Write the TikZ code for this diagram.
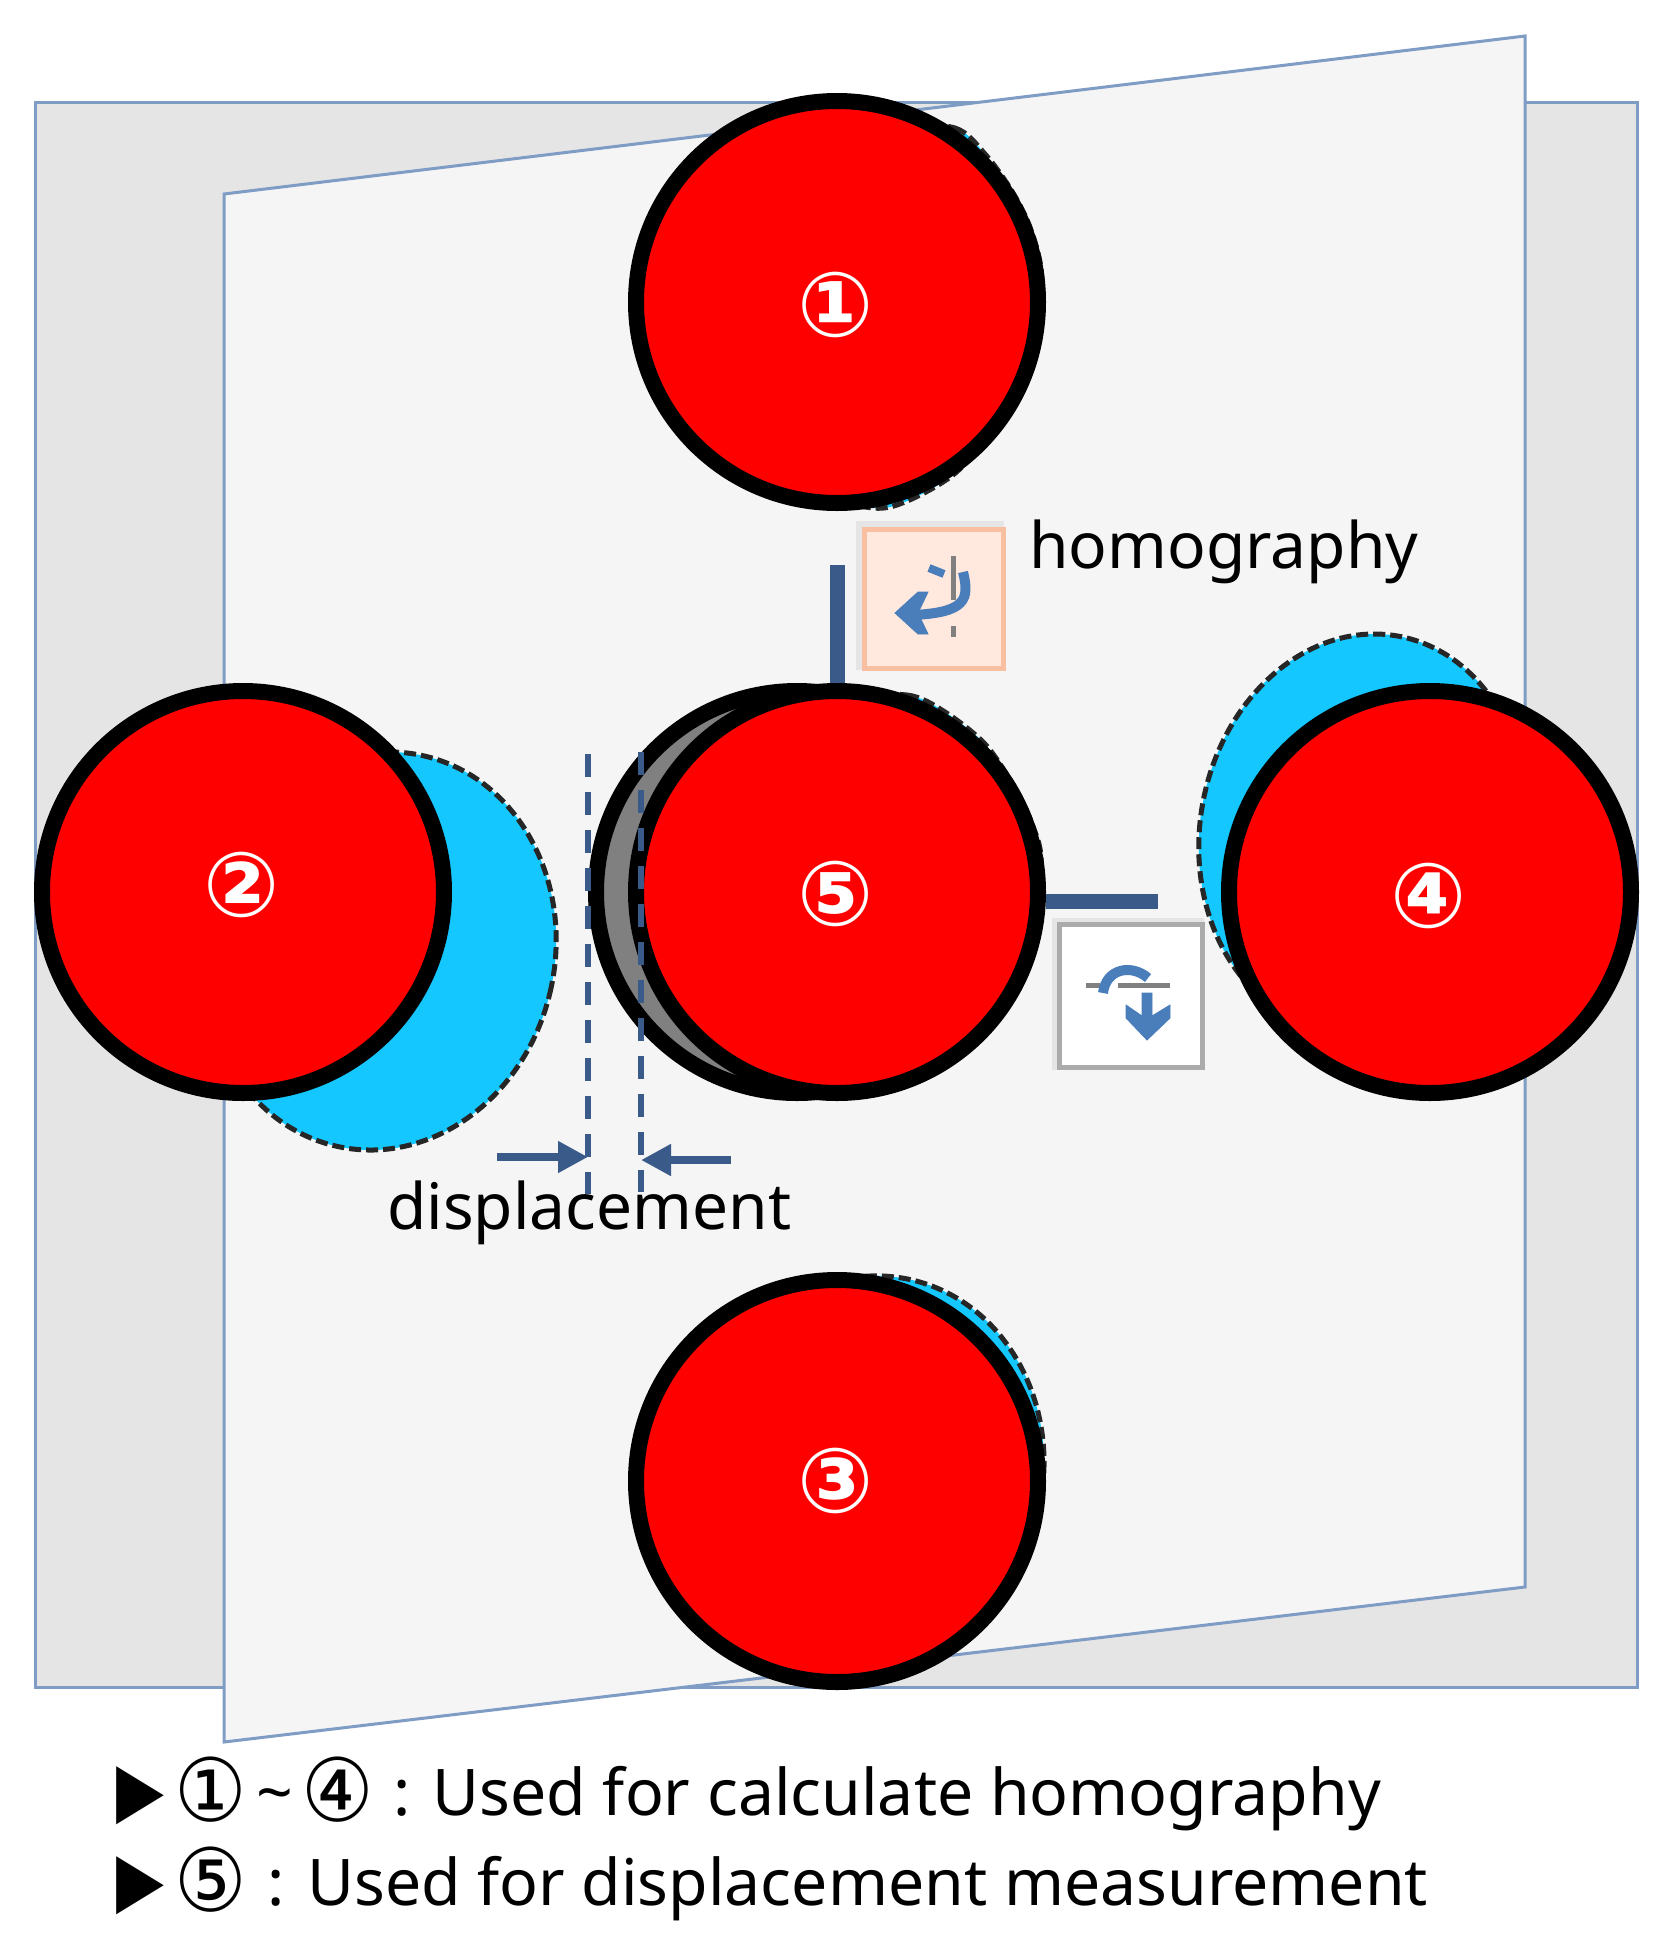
\documentclass[tikz,border=0pt]{standalone}
\usepackage{fontspec}
\setmainfont{Noto Sans}
\newfontfamily\circfont{DejaVu Sans}
\usetikzlibrary{arrows.meta}
\definecolor{linkblue}{HTML}{3A5A8A}
\definecolor{frameblue}{HTML}{7F9CC4}
\definecolor{ghostblue}{HTML}{14C8FF}
\definecolor{iconblue}{HTML}{4A7EBB}
\newcommand{\tallnum}[1]{\raisebox{-3pt}{\scalebox{1}[1.08]{\circfont\fontsize{40.5}{40.5}\selectfont #1}}}
\tikzset{
  plane/.style={draw=frameblue,line width=1.5pt},
  ghost/.style={draw=black!85,fill=ghostblue,line width=2.5pt,dash pattern=on 6pt off 2.5pt},
  marker/.style={circle,draw=black,fill=red,line width=8pt,minimum size=201pt,inner sep=0pt},
  num/.style={text=white,inner sep=0pt,font=\circfont\bfseries\fontsize{45}{45}\selectfont},
  word/.style={anchor=base west,inner sep=0pt,font=\fontsize{32}{38}\selectfont},
  legendline/.style={anchor=base west,inner sep=0pt,font=\fontsize{32.15}{38}\selectfont},
  bullet/.style={anchor=base west,inner sep=0pt,font=\circfont\fontsize{38}{38}\selectfont},
  link/.style={draw=linkblue,line width=7.5pt},
  guide/.style={draw=linkblue,line width=3pt,dash pattern=on 11.5pt off 7.5pt},
  pointer/.style={draw=linkblue,line width=4pt,-{Triangle[length=15pt,width=15pt]}},
  iconline/.style={draw=black!50,line width=2.5pt},
  iconarc/.style={draw=iconblue,line width=3pt}
}
\begin{document}
\begin{tikzpicture}[x=0.5pt,y=-0.5pt]
\useasboundingbox (0,0) rectangle (1666,1960);

\draw[plane,fill=black!10] (35,102) rectangle (1637,1687);
\draw[plane,fill=black!4] (224,194) -- (1525,36) -- (1525,1587) -- (224,1742) -- cycle;

\draw[ghost] plot[smooth cycle] coordinates {(890,125) (955,128) (985,154) (1010,188) (1028,222) (1040,262) (1042,305) (1030,365) (1000,420) (953,475) (890,507) (840,500) (740,460) (700,350) (720,200) (800,140)};
\draw[ghost,rotate around={-12:(380,951)}] (380,951) ellipse [x radius=175,y radius=200];
\draw[ghost,rotate around={-10:(1363,833)}] (1363,833) ellipse [x radius=163,y radius=200];
\draw[ghost] plot[smooth cycle] coordinates {(840,700) (907,695) (945,712) (985,744) (1015,788) (1034,829) (1041,865) (1030,960) (960,1040) (850,1060) (720,1000) (700,850) (760,740)};
\draw[ghost,rotate around={-12:(868,1472)}] (868,1472) ellipse [x radius=175,y radius=197];

% back copy of the middle target
\node[marker,fill=black!50] (m0) at (797,892) {};

\node[marker] (m1) at (837,302) {};
\node[marker] (m2) at (243,892) {};
\node[marker] (m3) at (837,1481) {};
\node[marker] (m4) at (1430,892) {};
\node[marker] (m5) at (837,892) {};

\node[num] (n1) at (836,305) {①};
\node[num] (n2) at (242,885) {②};
\node[num] (n3) at (836,1481) {③};
\node[num] (n4) at (1429,896) {④};
\node[num] (n5) at (836,894) {⑤};

% bars to the rotation icons
\coordinate (vtop) at (837,565);
\coordinate (hend) at (1158,901);
\draw[link] (vtop) -- (m5.north);
\draw[link] (hend) -- (hend -| m5.east);

% rotation icons
\draw[black!10,line width=3pt] (859,670) -- (859,524) -- (1004,524);
\draw[draw={rgb,255:red,248;green,191;blue,160},fill={rgb,255:red,255;green,232;blue,222},line width=2.5pt] (864,529) rectangle (1003,668);
\draw[iconline] (953,556) -- (953,600);
\draw[iconline] (953,626) -- (953,637);
\draw[iconarc,line width=4pt] (929,568) -- (944,574);
\draw[iconarc,line width=5pt] (963,572) .. controls (970,600) and (965,612) .. (915,615);
\draw[iconblue,fill=iconblue] (895,613) -- (918,592) -- (928,592) -- (918,613) -- (928,634) -- (918,634) -- cycle;

\draw[black!10,line width=3pt] (1055,1070) -- (1055,921) -- (1204,921);
\draw[draw=black!33,fill=white,line width=2.5pt] (1059,924) rectangle (1202,1067);
\draw[iconline] (1086,985) -- (1100,985);
\draw[iconline] (1118,985) -- (1170,985);
\draw[iconarc,line width=5pt] (1103,993) .. controls (1106,968) and (1132,964) .. (1148,978);
\draw[iconblue,fill=iconblue] (1147,1040) -- (1126,1018) -- (1126,1005) -- (1142,1016) -- (1142,993) -- (1152,993) -- (1152,1016) -- (1170,1005) -- (1170,1018) -- cycle;

% displacement marks
\coordinate (g1a) at (588,754);
\coordinate (g1b) at (588,1194);
\coordinate (g2a) at (641,752);
\coordinate (g2b) at (641,1192);
\coordinate (p1) at (497,1157);
\coordinate (p2) at (731,1160);
\draw[guide] (g1a) -- (g1b);
\draw[guide] (g2a) -- (g2b);
\draw[pointer] (p1) -- (p1 -| g1a);
\draw[pointer] (p2) -- (p2 -| g2a);

\node[word] (homog) at (1029,568) {homography};
\node[word] (displ) at (387,1229) {displacement};

% legend
\node[bullet] (tri1) at (116,1815) {\scalebox{0.82}[1]{▶}};
\node[bullet] (tri2) at (116,1905) {\scalebox{0.82}[1]{▶}};
\node[legendline] (leg1) at (174,1815) {\tallnum{①}\hspace{4.5pt}\textasciitilde\hspace{4.5pt}\tallnum{④}\hspace{1pt} : Used for calculate homography};
\node[legendline] (leg2) at (174,1905) {\tallnum{⑤}\hspace{2pt} : Used for displacement measurement};
\end{tikzpicture}
\end{document}
